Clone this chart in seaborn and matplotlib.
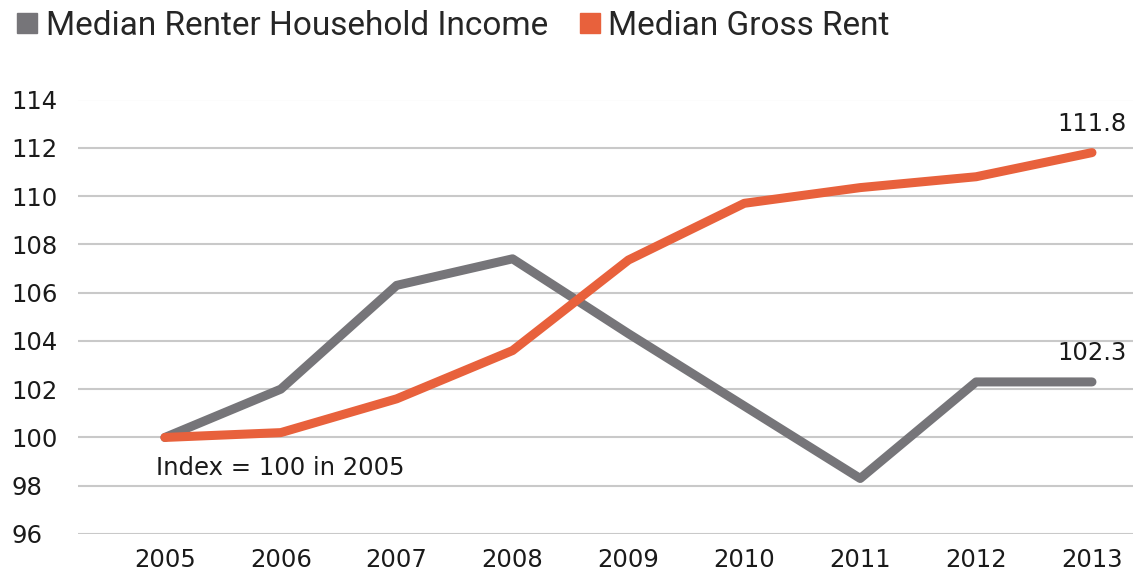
import matplotlib
matplotlib.use('Agg')
import matplotlib.pyplot as plt
from matplotlib.lines import Line2D
import seaborn as sns
import pandas as pd

years = [2005, 2006, 2007, 2008, 2009, 2010, 2011, 2012, 2013]
income = [100.0, 102.0, 106.3, 107.4, 104.3, 101.3, 98.3, 102.3, 102.3]
rent = [100.0, 100.2, 101.6, 103.6, 107.35, 109.7, 110.35, 110.8, 111.8]
series_names = ["Median Renter Household Income", "Median Gross Rent"]
y_ticks = [96, 98, 100, 102, 104, 106, 108, 110, 112, 114]

colors = {"Median Renter Household Income": "#767579", "Median Gross Rent": "#E8613C"}

df = pd.concat([
    pd.DataFrame({'Year': years, 'Index': income, 'Series': series_names[0]}),
    pd.DataFrame({'Year': years, 'Index': rent, 'Series': series_names[1]}),
])

sns.set_theme(style='white')
plt.rcParams['font.family'] = ['DejaVu Sans']

fig = plt.figure(figsize=(11.33, 5.74), dpi=100)
ax = fig.add_axes([78 / 1133, 1 - 534 / 574, 1 - 78 / 1133, (534 - 99.5) / 574])

sns.lineplot(data=df, x='Year', y='Index', hue='Series', palette=colors,
             linewidth=6.5, solid_capstyle='round', legend=False, ax=ax, zorder=3)

ax.set_ylim(96, 114)
ax.set_xlim(2004.25, 2013.354)
ax.set_yticks(y_ticks)
ax.set_xticks(years)
ax.grid(axis='y', color='#c9c9c9', linewidth=1.5)
ax.grid(axis='x', visible=False)
for s in ax.spines.values():
    s.set_visible(False)
ax.tick_params(axis='both', length=0, labelsize=17.5, labelcolor='#1a1a1a')
ax.tick_params(axis='y', pad=48)
for lab in ax.get_yticklabels():
    lab.set_horizontalalignment('left')
ax.tick_params(axis='x', pad=10)
ax.set_xlabel('')
ax.set_ylabel('')

# end labels
ax.text(years[-1], rent[-1] + 0.7, f"{rent[-1]:.1f}", ha='center', va='bottom', fontsize=17.5, color='#1a1a1a')
ax.text(years[-1], income[-1] + 0.7, f"{income[-1]:.1f}", ha='center', va='bottom', fontsize=17.5, color='#1a1a1a')
ax.text(2004.92, 98.75, "Index = 100 in 2005", ha='left', va='center', fontsize=17.5, color='#1a1a1a')

handles = [Line2D([], [], marker='s', linestyle='', markersize=14,
                  markerfacecolor=colors[n], markeredgecolor=colors[n]) for n in series_names]
fig.legend(handles, series_names, loc='upper left', bbox_to_anchor=(-0.017, 1.035), ncol=2,
           frameon=False, handletextpad=0.05, columnspacing=0.75, handlelength=1.0,
           prop={'family': ['Roboto', 'DejaVu Sans'], 'size': 24})

fig.savefig('out.png', dpi=100)
